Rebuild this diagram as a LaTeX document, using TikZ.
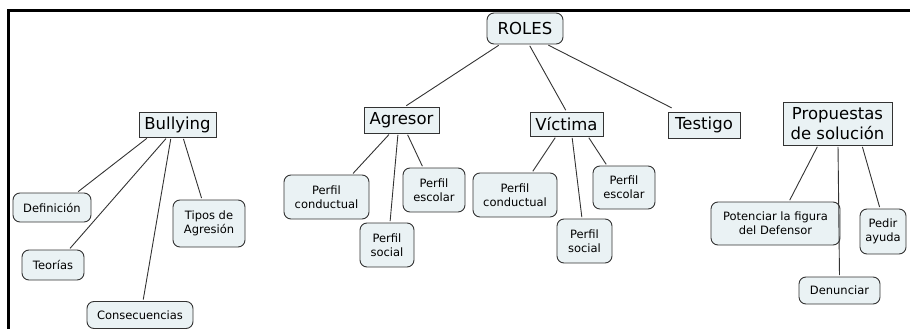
\documentclass[tikz,border=0pt]{standalone}
\usepackage{fontspec}
\setmainfont{DejaVu Sans}
\begin{document}
\begin{tikzpicture}[x=1pt,y=-1pt,
  every node/.style={inner sep=2pt, align=center},
  nbase/.style={draw=bord, fill=nfill, line width=0.9pt},
  bigbox/.style={nbase, font=\fontsize{16.5}{20}\selectfont},
  bigrnd/.style={bigbox, rounded corners=7pt},
  smallbox/.style={nbase, rounded corners=7pt, font=\fontsize{11.5}{14}\selectfont},
  link/.style={draw=bord, line width=0.9pt, shorten <=1.5pt, shorten >=1.5pt}]
\definecolor{bord}{HTML}{333333}
\definecolor{nfill}{HTML}{EAF2F4}
\useasboundingbox (0,0) rectangle (910,329);
\coordinate (fa) at (8.5,329);
\coordinate (fb) at (8.5,10.8);
\coordinate (fc) at (910,10.8);
\draw[line width=3pt, black] (fa) -- (fb) -- (fc);

% nodes
\node[bigbox, minimum width=77pt, minimum height=25pt] (bul) at (177.5,124.5) {Bullying};
\node[smallbox, minimum width=78pt, minimum height=29pt] (def) at (52,207.5) {Definición};
\node[smallbox, minimum width=62pt, minimum height=30pt] (teo) at (53,265) {Teorías};
\node[smallbox, minimum width=72pt, minimum height=47pt] (tip) at (209,223.5) {Tipos de\\Agresión};
\node[smallbox, minimum width=106pt, minimum height=27pt] (con) at (140,315) {Consecuencias};

\node[bigrnd, minimum width=76pt, minimum height=31pt] (rol) at (525,28.5) {ROLES};
\node[bigbox, minimum width=75pt, minimum height=26pt] (agr) at (401.5,120) {Agresor};
\node[bigbox, minimum width=73pt, minimum height=24pt] (vic) at (566.5,124) {Víctima};
\node[bigbox, minimum width=72pt, minimum height=26pt] (tes) at (704,125) {Testigo};

\node[smallbox, minimum width=85pt, minimum height=44pt] (ac) at (326.5,197) {Perfil\\conductual};
\node[smallbox, minimum width=54pt, minimum height=44pt] (as) at (387,245) {Perfil\\social};
\node[smallbox, minimum width=62pt, minimum height=44pt] (ae) at (434,190) {Perfil\\escolar};

\node[smallbox, minimum width=84pt, minimum height=44pt] (vc) at (515,195) {Perfil\\conductual};
\node[smallbox, minimum width=55pt, minimum height=44pt] (vs) at (584.5,241) {Perfil\\social};
\node[smallbox, minimum width=62pt, minimum height=43pt] (ve) at (624,187.5) {Perfil\\escolar};

\node[bigbox, minimum width=109pt, minimum height=43pt] (pro) at (837.5,123.5) {Propuestas\\de solución};
\node[smallbox, minimum width=129pt, minimum height=43pt] (pot) at (775.5,223.5) {Potenciar la figura\\del Defensor};
\node[smallbox, minimum width=46pt, minimum height=45pt] (ped) at (883,231.5) {Pedir\\ayuda};
\node[smallbox, minimum width=81pt, minimum height=27pt] (den) at (839.5,290.5) {Denunciar};

% connectors
\draw[link] ([xshift=-29.5pt]bul.south) -- ([xshift=25pt]def.north);
\draw[link] ([xshift=-10.5pt]bul.south) -- ([xshift=16pt]teo.north);
\draw[link] ([xshift=-6.5pt]bul.south) -- ([xshift=3pt]con.north);
\draw[link] ([xshift=5.5pt]bul.south) -- ([xshift=-7pt]tip.north);

\draw[link] ([xshift=-25pt]rol.south) -- ([xshift=3.5pt]agr.north);
\draw[link] ([xshift=4pt]rol.south) -- (vic.north);
\draw[link] ([xshift=22pt]rol.south) -- ([xshift=-31pt,yshift=3pt]tes.north);

\draw[link] ([xshift=-11.5pt]agr.south) -- ([xshift=25.5pt]ac.north);
\draw[link] ([xshift=-3.5pt]agr.south) -- ([xshift=3pt]as.north);
\draw[link] ([xshift=5.5pt]agr.south) -- ([xshift=-11pt]ae.north);

\draw[link] ([xshift=-10.5pt]vic.south) -- ([xshift=17pt]vc.north);
\draw[link] ([xshift=5.5pt]vic.south) -- ([xshift=-2.5pt]vs.north);
\draw[link] ([xshift=21.5pt]vic.south) -- ([xshift=-17pt]ve.north);

\draw[link] ([xshift=-19.5pt]pro.south) -- ([xshift=13.5pt]pot.north);
\draw[link] ([xshift=0.5pt]pro.south) -- (den.north);
\draw[link] ([xshift=24.5pt]pro.south) -- ([xshift=-3pt]ped.north);
\end{tikzpicture}
\end{document}
